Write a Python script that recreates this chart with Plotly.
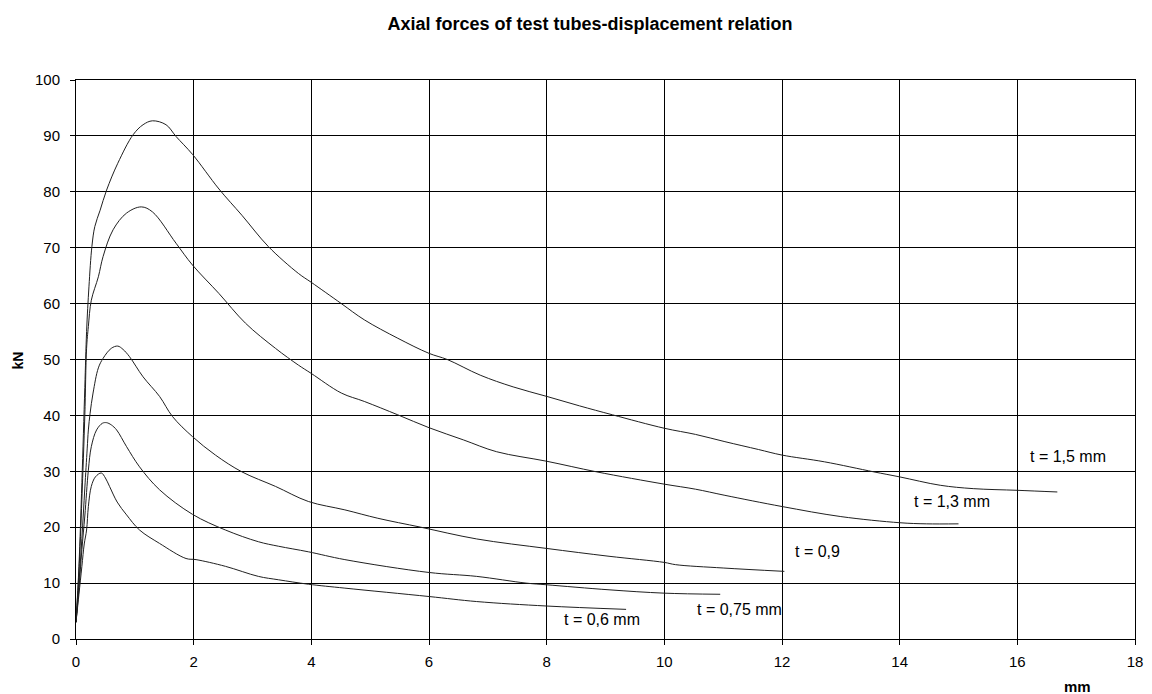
import plotly.graph_objects as go

# Displacement (mm) and axial force (kN) for each tube thickness
x_06 = [0, 0.05, 0.1, 0.14, 0.18, 0.21, 0.26, 0.33, 0.43, 0.5, 0.57, 0.7, 0.86, 1.08, 1.42, 1.87, 2.04, 2.54, 3.10, 3.44, 3.95, 4.57, 6, 6.81, 8, 9.35]
y_06 = [3, 8, 13, 17, 19.5, 23.7, 27.3, 29, 29.7, 28.8, 27.3, 24.5, 22.2, 19.5, 17.1, 14.4, 14.2, 13.0, 11.2, 10.6, 9.8, 9.1, 7.6, 6.7, 5.9, 5.3]

x_075 = [0, 0.05, 0.1, 0.15, 0.21, 0.26, 0.35, 0.45, 0.52, 0.6, 0.69, 0.86, 1.08, 1.42, 1.98, 2.54, 3.10, 3.44, 3.95, 4.57, 6, 6.81, 7.65, 8, 9.06, 10, 10.95]
y_075 = [3, 9, 16, 22, 30.2, 34.4, 37.4, 38.6, 38.7, 38.3, 37.4, 34.4, 30.8, 26.7, 22.3, 19.5, 17.4, 16.6, 15.6, 14.2, 11.9, 11.2, 10.0, 9.7, 8.8, 8.2, 8.0]

x_09 = [0, 0.05, 0.1, 0.15, 0.19, 0.21, 0.24, 0.29, 0.38, 0.46, 0.6, 0.71, 0.8, 0.91, 1.14, 1.42, 1.64, 1.98, 2.37, 2.82, 3.39, 3.95, 4.57, 5.13, 5.86, 6.81, 8, 9.06, 10, 10.19, 11, 12.04]
y_09 = [3, 10, 18, 27, 34, 37.4, 40.4, 44, 48.5, 50.2, 52, 52.4, 51.8, 50.5, 46.9, 43.4, 39.8, 36.2, 32.9, 29.9, 27.3, 24.6, 23.1, 21.6, 20.0, 17.9, 16.2, 14.8, 13.7, 13.3, 12.7, 12.1]

x_13 = [0, 0.05, 0.1, 0.15, 0.18, 0.21, 0.26, 0.38, 0.46, 0.63, 0.86, 1.11, 1.30, 1.70, 1.98, 2.43, 2.88, 3.39, 3.78, 4, 4.51, 4.9, 5.47, 6, 6.59, 7.15, 8, 8.85, 10, 10.53, 11.03, 12, 13, 14, 14.46, 15.0]
y_13 = [3, 12, 25, 40, 52, 55.9, 60.6, 64.8, 68.4, 73.2, 76.2, 77.3, 76.4, 70.8, 66.9, 61.8, 56.5, 52.0, 49, 47.5, 44.0, 42.5, 40.1, 37.8, 35.6, 33.5, 31.8, 29.9, 27.7, 26.8, 25.7, 23.7, 21.9, 20.8, 20.6, 20.6]

x_15 = [0, 0.05, 0.1, 0.15, 0.18, 0.22, 0.27, 0.32, 0.41, 0.52, 0.71, 0.97, 1.14, 1.30, 1.53, 1.70, 1.98, 2.43, 2.82, 3.27, 3.78, 4, 4.51, 4.9, 5.47, 6, 6.31, 6.87, 7.43, 8, 8.56, 9.12, 10, 10.53, 11.03, 11.6, 12, 12.72, 13.56, 14, 14.69, 15.25, 16, 16.68]
y_15 = [3, 13, 28, 45, 55, 63, 70.2, 73.8, 76.7, 80.3, 85.1, 90.2, 92.0, 92.7, 92.0, 89.9, 86.7, 80.5, 75.8, 70.2, 65.4, 63.8, 60, 57.1, 53.8, 51.1, 50, 47.2, 45.1, 43.4, 41.7, 40.1, 37.7, 36.6, 35.3, 33.9, 32.9, 31.7, 29.9, 29.0, 27.5, 26.9, 26.6, 26.3]

series_names = ["t = 0,6 mm", "t = 0,75 mm", "t = 0,9", "t = 1,3 mm", "t = 1,5 mm"]
series_x = [x_06, x_075, x_09, x_13, x_15]
series_y = [y_06, y_075, y_09, y_13, y_15]

# label anchor positions (data coords)
label_x = [8.22, 10.48, 12.15, 14.17, 16.14]
label_y = [3.5, 5.2, 15.6, 24.6, 32.6]

x_ticks = list(range(0, 19, 2))
y_ticks = list(range(0, 101, 10))

FONT = "Liberation Sans, Arial, sans-serif"

fig = go.Figure()
for name, xs, ys in zip(series_names, series_x, series_y):
    fig.add_trace(go.Scatter(x=xs, y=ys, mode="lines", name=name,
                             line=dict(color="#202020", width=1),
                             line_shape="spline", showlegend=False))

annotations = []
for name, lx, ly in zip(series_names, label_x, label_y):
    annotations.append(dict(x=lx, y=ly, xref="x", yref="y", text=name,
                            showarrow=False, xanchor="left", yanchor="middle",
                            xshift=2,
                            font=dict(family=FONT, size=16, color="black")))

PL, PR, PT, PB = 76, 1143, 80, 639
pw, ph = PR - PL, PB - PT
annotations.append(dict(x=(18 - PL) / pw, y=(PB - 360) / ph, xref="paper", yref="paper",
                        text="<b>kN</b>", textangle=-90, showarrow=False,
                        xanchor="center", yanchor="middle",
                        font=dict(family=FONT, size=14, color="black")))
annotations.append(dict(x=(1085 - PL) / pw, y=-(687 - PB) / ph, xref="paper", yref="paper",
                        text="<b>mm</b>", showarrow=False,
                        xanchor="center", yanchor="middle",
                        font=dict(family=FONT, size=15, color="black")))

fig.update_layout(
    width=1152, height=694,
    paper_bgcolor="white", plot_bgcolor="white",
    margin=dict(l=PL, r=1152 - PR, t=PT, b=694 - PB),
    title=dict(text="<b>Axial forces of test tubes-displacement relation</b>",
               x=590 / 1152, xanchor="center", y=1 - 24 / 694, yanchor="middle",
               font=dict(family=FONT, size=18, color="black")),
    annotations=annotations,
    font=dict(family=FONT, size=15, color="black"),
)

fig.update_xaxes(range=[0, 18], tickvals=x_ticks, ticks="outside", ticklen=5,
                 tickcolor="black", showgrid=True, gridcolor="black", gridwidth=1,
                 showline=True, linecolor="black", linewidth=1, mirror=True,
                 zeroline=False, ticklabelstandoff=4,
                 tickfont=dict(family=FONT, size=15, color="black"))
fig.update_yaxes(range=[0, 100], tickvals=y_ticks, ticks="outside", ticklen=5,
                 tickcolor="black", showgrid=True, gridcolor="black", gridwidth=1,
                 showline=True, linecolor="black", linewidth=1, mirror=True,
                 zeroline=False, ticklabelstandoff=7,
                 tickfont=dict(family=FONT, size=15, color="black"))

fig.write_html("out.html")
